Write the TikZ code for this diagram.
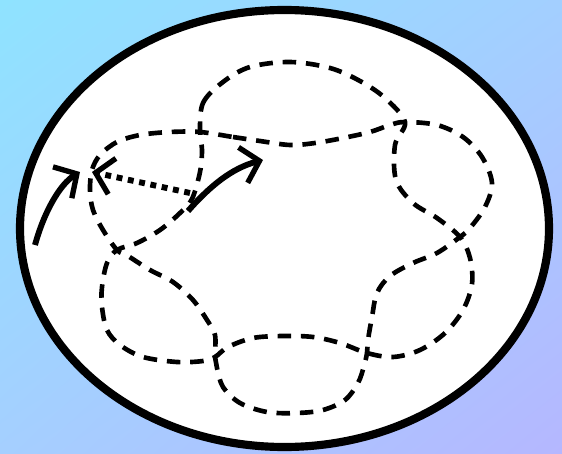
\documentclass[tikz,border=0pt]{standalone}
\usepackage{tikz}
\usepackage{xcolor}
\usetikzlibrary{arrows.meta,shadings}
\definecolor{bgtl}{HTML}{8FE3FF}
\definecolor{bgtr}{HTML}{A3CFFF}
\definecolor{bgbl}{HTML}{A5CFFF}
\definecolor{bgbr}{HTML}{B5B7FF}

\begin{document}
\begin{tikzpicture}[
    x=0.025cm, y=-0.025cm,
    disc/.style={draw=black, fill=white, line width=5.8pt},
    strand/.style={draw=black, line width=3.3pt, dash pattern=on 9.6pt off 7pt},
    flow/.style={-{Straight Barb[length=12pt,width=26pt,line width=3.8pt]}, line width=4.2pt},
    hop/.style={-{Straight Barb[length=12pt,width=26pt,line width=3.8pt]}, line width=4.2pt,
                dash pattern=on 4.2pt off 4pt}
]
  % background and disc
  \useasboundingbox (0,0) rectangle (562,454);
  \shade[upper left=bgtl, upper right=bgtr, lower left=bgbl, lower right=bgbr]
    (0,0) rectangle (562,454);
  \draw[disc] (284.5,228.5) ellipse [x radius=264.5, y radius=218.5];

  % first strand: outer on top, lower right and lower left loops
  \draw[strand] plot[smooth cycle, tension=0.55] coordinates {
    (200,132) (203,103) (223,82) (250,67) (290,62) (330,68) (360,81) (385,98)
    (405,122) (395,145) (396,180) (413,203) (437,218)
    (460,237) (470,258) (472,284) (463,310) (445,333) (420,350) (393,357)
    (367,353) (340,343) (313,337) (283,336) (253,338) (228,347)
    (215,357) (203,361) (177,362) (143,357) (120,345) (107,330) (102,307) (102,287) (107,263)
    (117,250) (137,243) (160,230) (180,213) (192,199) (200,172) (202,150)};

  % second strand: outer on right, bottom and left loops
  \draw[strand] plot[smooth cycle, tension=0.55] coordinates {
    (200,132) (233,137) (260,141) (290,145) (315,143) (343,138) (370,132) (390,125)
    (405,122) (437,125) (463,137) (482,157) (492,183) (485,207) (470,228)
    (460,237) (437,253) (413,263) (390,276) (377,293) (372,317) (368,340)
    (367,353) (364,366) (358,383) (345,400) (323,410) (297,413) (267,412) (240,403) (223,387) (217,368)
    (215,357) (215,335) (207,320) (193,300) (173,282) (150,270) (128,256)
    (117,250) (103,230) (93,210) (90,190) (92,170) (100,155) (117,142) (140,135) (170,132)};

  % arrow ends
  \coordinate (rim) at (35,245);
  \coordinate (entry) at (80,172);
  \coordinate (near) at (92,172);
  \coordinate (src) at (190,193);
  \coordinate (base) at (188,211);
  \coordinate (out) at (263,160);

  % arrows
  \draw[flow] (rim) .. controls (44,212) and (60,184) .. (entry);
  \draw[hop] (src) -- (near);
  \draw[flow] (base) .. controls (210,186) and (232,168) .. (out);
\end{tikzpicture}
\end{document}
